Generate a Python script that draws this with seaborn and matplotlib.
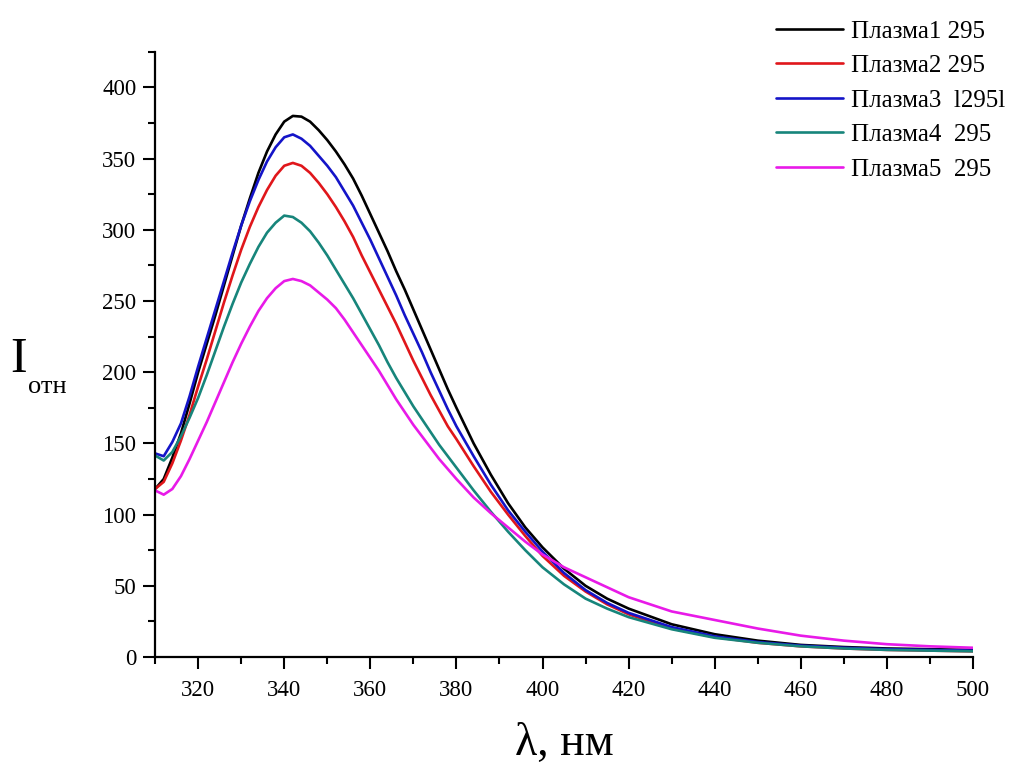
import numpy as np
import pandas as pd
import seaborn as sns
import matplotlib.pyplot as plt
from matplotlib.ticker import MultipleLocator

sns.set_style('ticks', {'axes.edgecolor': 'black', 'xtick.color': 'black',
                        'ytick.color': 'black', 'text.color': 'black'})
plt.rcParams['font.family'] = ['Liberation Serif', 'DejaVu Serif']

# wavelength, nm
wavelength = [310, 312, 314, 316, 318, 320, 322, 324, 326, 328, 330, 332, 334, 336, 338, 340,
              342, 344, 346, 348, 350, 352, 354, 356, 358, 360, 362, 364, 366, 368, 370, 372,
              374, 376, 378, 380,
              384, 388, 392, 396, 400, 405, 410, 415, 420, 430, 440, 450, 460, 470, 480, 490, 500]

plasma1 = [118, 125, 140, 157, 178, 200, 220, 240, 261, 282, 303, 322, 340, 355, 367, 376,
           380, 379.5, 376, 370, 363, 355, 346, 336, 324, 311, 298, 285, 271, 258, 244, 230,
           216, 202, 188, 175,
           150, 128, 108, 91, 77, 62, 50, 41, 34, 23, 16, 11.5, 8.5, 7, 6, 5.5, 5]
plasma2 = [118, 123, 136, 152, 170, 190, 209, 229, 249, 268, 286, 302, 316, 328, 338, 345,
           347, 345, 340, 333, 325, 316, 306, 295, 282, 270, 258, 246, 234, 221, 208, 196,
           184, 173, 162, 153,
           134, 116, 100, 85, 71, 57, 46, 37, 30, 20, 14, 10, 7.5, 6, 5, 4.5, 4]
plasma3 = [143, 141, 151, 164, 183, 204, 224, 244, 264, 284, 303, 320, 335, 348, 358, 365,
           367, 364, 359, 352, 345, 337, 327, 317, 305, 293, 280, 267, 254, 240, 227, 214,
           200, 187, 174, 162,
           141, 121, 103, 88, 74, 59, 47, 38, 31, 21, 14.5, 10.5, 8, 6.5, 5.5, 5, 4.5]
plasma4 = [141.5, 138, 144, 155, 168, 182, 198, 215, 232, 248, 263, 276, 288, 298, 305, 310,
           309, 305, 299, 291, 282, 272, 262, 252, 241, 230, 219, 207, 196, 186, 176, 167,
           158, 149, 141, 133,
           117, 102, 88, 75, 63, 51, 41, 34, 28, 19.5, 13.5, 10, 7.5, 6, 5, 4.5, 4]
plasma5 = [117, 114, 118, 127, 139, 152, 165, 179, 193, 207, 220, 232, 243, 252, 259, 264,
           265.5, 264, 261, 256, 251, 245, 237, 228, 219, 210, 201, 191, 181, 172, 163, 155,
           147, 139, 132, 125,
           112, 101, 91, 81, 72, 63, 56, 49, 42, 32, 26, 20, 15, 11.5, 9, 7.5, 6.5]

labels = ['Плазма1 295', 'Плазма2 295', 'Плазма3  l295l', 'Плазма4  295', 'Плазма5  295']
colors = ['#000000', '#e0161b', '#1414c8', '#17857b', '#e81ae8']

frames = []
for lab, vals in zip(labels, [plasma1, plasma2, plasma3, plasma4, plasma5]):
    frames.append(pd.DataFrame({'wl': wavelength, 'I': vals, 'sample': lab}))
df = pd.concat(frames, ignore_index=True)

fig = plt.figure(figsize=(10.34, 7.67), dpi=100, facecolor='w')
ax = fig.add_axes([0.150, 0.1434, 0.791, 0.789])
sns.lineplot(data=df, x='wl', y='I', hue='sample', palette=colors, linewidth=1.9,
             sort=False, estimator=None, ax=ax)

ax.set_xlim(310, 500)
ax.set_ylim(0, 425)
ax.set_xticks([320, 340, 360, 380, 400, 420, 440, 460, 480, 500])
ax.xaxis.set_minor_locator(MultipleLocator(10))
ax.yaxis.set_major_locator(MultipleLocator(50))
ax.yaxis.set_minor_locator(MultipleLocator(25))
ax.tick_params(which='major', direction='out', length=8.5, width=1.5, labelsize=16.5,
               colors='black')
ax.tick_params(axis='x', which='major', pad=8)
ax.tick_params(axis='y', which='major', pad=5)
ax.tick_params(which='minor', direction='out', length=5, width=1.5, colors='black')
for s in ['left', 'bottom']:
    ax.spines[s].set_linewidth(1.6)
sns.despine(ax=ax)

ax.set_xlabel('')
ax.set_ylabel('')
fig.text(0.546, 0.016, 'λ, нм', fontsize=33, ha='center', va='baseline', color='black')
fig.text(0.010, 0.515, 'I', fontsize=36, ha='left', va='baseline', color='black')
fig.text(0.027, 0.488, 'отн', fontsize=19, ha='left', va='baseline', color='black')

leg = ax.legend(loc='upper left', bbox_to_anchor=(0.738, 0.99), bbox_transform=fig.transFigure,
                frameon=False, fontsize=18, handlelength=2.68, handletextpad=0.32,
                labelspacing=0.48, borderpad=0)
for t in leg.get_texts():
    t.set_color('black')

fig.savefig('out.png', dpi=100)
